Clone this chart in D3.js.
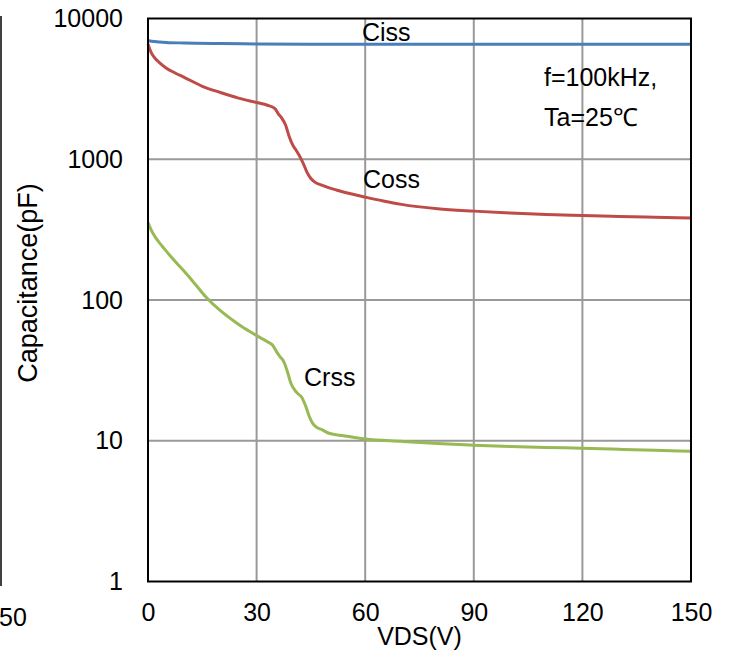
<!DOCTYPE html>
<html><head><meta charset="utf-8">
<script src="https://cdn.jsdelivr.net/npm/d3@7"></script>
<style>body{margin:0;background:#fff}svg{display:block}text{font-family:"Liberation Sans",Arial,sans-serif;fill:#000}</style>
</head><body><svg id="c" width="729" height="657"></svg>
<script>
const xTicks=[0,30,60,90,120,150];
const yTicks=[1,10,100,1000,10000];
const cissV=[0,1,3,5,10,20,30,45,60,90,120,150];
const cissC=[6980,6900,6820,6760,6700,6640,6600,6570,6560,6550,6550,6550];
const cossV=[0,0.5,1,2,3,5,7.5,10,15,20,25,30,33,35,36,37,38,39,40,41,42,43,44,45,46,48,52,56,60,65,70,80,90,100,110,120,130,140,150];
const cossC=[6600,6050,5650,5200,4900,4450,4100,3820,3300,2980,2720,2530,2420,2300,2100,1950,1750,1450,1260,1150,1040,920,800,730,690,655,605,568,538,505,478,445,428,415,405,398,392,387,383];
const crssV=[0,1,2,3,4,6,8,10,13,16,20,22,24,26,28,31,33,34.5,35.5,36.5,37.5,38.5,39.5,40.5,41.5,42.5,43.5,44.5,45.5,46.5,48,50,54,60,70,80,90,100,110,120,130,140,150];
const crssC=[355,310,280,258,240,208,182,160,130,105,84,76.5,70,64.5,60,54,50.5,47.5,43,39.5,36.5,31,25.5,23,21.5,20.3,17.8,15,13.3,12.5,12.0,11.3,10.85,10.3,9.9,9.55,9.3,9.1,8.95,8.85,8.7,8.55,8.43];
const seriesNames=["Ciss","Coss","Crss"];
const colors=["#4a7ebb","#be4b48","#98b954"];

const svg=d3.select("#c");
const L=148,R=691,T=18.5,B=581.5;
const fs="25px";
const x=d3.scaleLinear().domain([0,150]).range([L,R]);
const y=d3.scaleLog().domain([1,10000]).range([B,T]);

// remnant of neighbouring chart at the left edge
svg.append("line").attr("x1",1).attr("x2",1).attr("y1",16).attr("y2",586).attr("stroke","#000").attr("stroke-width",1.5);
svg.append("text").attr("x",-1).attr("y",626).style("font-size",fs).text("50");

// grid
svg.append("g").selectAll("line").data(xTicks.slice(1,-1)).join("line")
 .attr("x1",d=>x(d)).attr("x2",d=>x(d)).attr("y1",T).attr("y2",B).attr("stroke","#999").attr("stroke-width",2);
svg.append("g").selectAll("line").data(yTicks.slice(1,-1)).join("line")
 .attr("x1",L).attr("x2",R).attr("y1",d=>y(d)).attr("y2",d=>y(d)).attr("stroke","#999").attr("stroke-width",2);

// axes via d3
const xa=svg.append("g").attr("transform",`translate(0,${B})`).call(d3.axisBottom(x).tickValues(xTicks).tickSize(0).tickPadding(22).tickFormat(d3.format("d")));
const ya=svg.append("g").attr("transform",`translate(${L},0)`).call(d3.axisLeft(y).tickValues(yTicks).tickSize(0).tickPadding(25).tickFormat(d3.format("d")));
[xa,ya].forEach(a=>{a.select(".domain").remove();a.selectAll("text").style("font-size",fs).attr("fill","#000").style("font-family","'Liberation Sans',Arial,sans-serif");});

// lines
const line=d3.line().x(d=>x(d[0])).y(d=>y(d[1])).curve(d3.curveMonotoneX);
const data=[d3.zip(cissV,cissC),d3.zip(cossV,cossC),d3.zip(crssV,crssC)];
svg.append("g").selectAll("path").data(data).join("path")
 .attr("d",line).attr("fill","none").attr("stroke",(d,i)=>colors[i]).attr("stroke-width",3).attr("stroke-linejoin","round");

// frame
svg.append("rect").attr("x",L).attr("y",T).attr("width",R-L).attr("height",B-T).attr("fill","none").attr("stroke","#000").attr("stroke-width",2);

// labels
const lab=[[362,41],[363,188],[304,386]];
seriesNames.forEach((n,i)=>svg.append("text").attr("x",lab[i][0]).attr("y",lab[i][1]).style("font-size",fs).text(n));
svg.append("text").attr("x",544).attr("y",86).style("font-size",fs).text("f=100kHz,");
svg.append("text").attr("x",544).attr("y",126).style("font-size",fs).text("Ta=25\u2103");

// axis titles
svg.append("text").attr("x",(L+R)/2).attr("y",645).attr("text-anchor","middle").style("font-size",fs).text("VDS(V)");
svg.append("text").attr("transform","translate(37,283) rotate(-90)").attr("text-anchor","middle").style("font-size","27px").text("Capacitance(pF)");
</script></body></html>
